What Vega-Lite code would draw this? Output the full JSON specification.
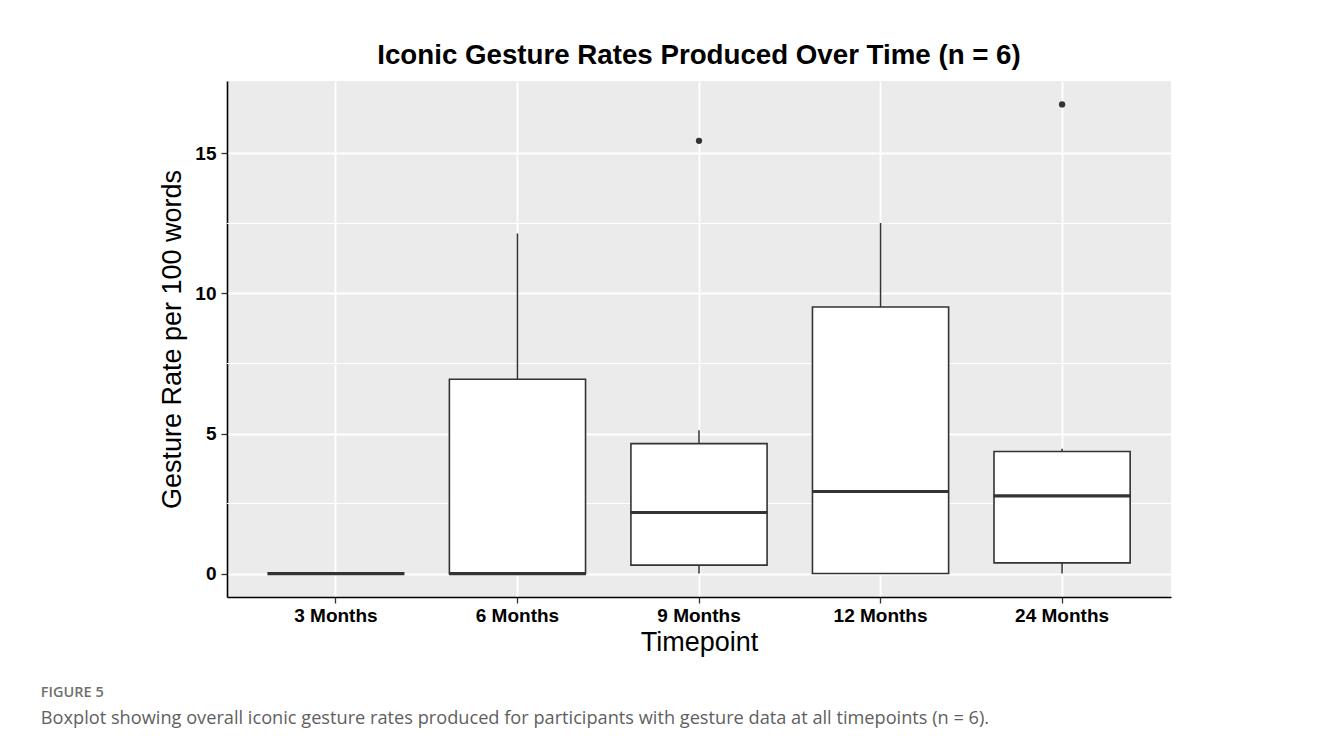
{
  "$schema": "https://vega.github.io/schema/vega-lite/v6.json",
  "background": "white",
  "padding": {"left": 40, "top": 42, "right": 5, "bottom": 5},
  "datasets": {
    "boxes": [
      {"timepoint": "3 Months", "lower": 0, "q1": 0, "median": 0, "q3": 0, "upper": 0},
      {"timepoint": "6 Months", "lower": 0, "q1": 0, "median": 0, "q3": 6.94, "upper": 12.14},
      {"timepoint": "9 Months", "lower": 0, "q1": 0.30, "median": 2.18, "q3": 4.64, "upper": 5.12},
      {"timepoint": "12 Months", "lower": 0, "q1": 0, "median": 2.93, "q3": 9.52, "upper": 12.52},
      {"timepoint": "24 Months", "lower": 0, "q1": 0.38, "median": 2.77, "q3": 4.36, "upper": 4.46}
    ],
    "outliers": [
      {"timepoint": "9 Months", "rate": 15.45},
      {"timepoint": "24 Months", "rate": 16.75}
    ],
    "minor": [{"v": 2.5}, {"v": 7.5}, {"v": 12.5}]
  },
  "title": {
    "text": "FIGURE 5",
    "subtitle": "Boxplot showing overall iconic gesture rates produced for participants with gesture data at all timepoints (n = 6).",
    "orient": "bottom",
    "anchor": "start",
    "frame": "bounds",
    "dx": -118,
    "offset": 31,
    "font": "Open Sans",
    "fontSize": 14.5,
    "fontWeight": 600,
    "color": "#6f6f6f",
    "subtitleFont": "Open Sans",
    "subtitleFontSize": 18.2,
    "subtitleColor": "#5f5f5f",
    "subtitlePadding": 9
  },
  "vconcat": [
    {
      "width": 944,
      "height": 516,
      "title": {
        "text": "Iconic Gesture Rates Produced Over Time (n = 6)",
        "font": "Liberation Sans",
        "fontSize": 27.7,
        "fontWeight": "bold",
        "color": "black",
        "anchor": "middle",
        "offset": 11
      },
      "layer": [
        {
          "data": {"name": "minor"},
          "mark": {"type": "rule", "color": "white", "strokeWidth": 1},
          "encoding": {
            "y": {"field": "v", "type": "quantitative",
                  "scale": {"domain": [-0.8375, 17.5875], "nice": false, "zero": false},
                  "axis": {"title": "Gesture Rate per 100 words", "values": [0, 5, 10, 15]}}
          }
        },
        {
          "data": {"name": "boxes"},
          "mark": {"type": "rule", "color": "#333333", "strokeWidth": 1.5},
          "encoding": {
            "x": {"field": "timepoint", "type": "nominal",
                  "sort": ["3 Months", "6 Months", "9 Months", "12 Months", "24 Months"],
                  "scale": {"type": "band", "paddingInner": 0.25, "paddingOuter": 0.225},
                  "axis": {"title": "Timepoint", "labelAngle": 0, "bandPosition": 0.5}},
            "y": {"field": "lower", "type": "quantitative",
                  "scale": {"domain": [-0.8375, 17.5875], "nice": false, "zero": false},
                  "axis": {"title": "Gesture Rate per 100 words", "values": [0, 5, 10, 15]}},
            "y2": {"field": "upper"}
          }
        },
        {
          "data": {"name": "boxes"},
          "mark": {"type": "bar", "fill": "white", "stroke": "#333333", "strokeWidth": 1.6},
          "encoding": {
            "x": {"field": "timepoint", "type": "nominal",
                  "sort": ["3 Months", "6 Months", "9 Months", "12 Months", "24 Months"],
                  "scale": {"type": "band", "paddingInner": 0.25, "paddingOuter": 0.225},
                  "axis": {"title": "Timepoint", "labelAngle": 0, "bandPosition": 0.5}},
            "y": {"field": "q1", "type": "quantitative",
                  "scale": {"domain": [-0.8375, 17.5875], "nice": false, "zero": false},
                  "axis": {"title": "Gesture Rate per 100 words", "values": [0, 5, 10, 15]}},
            "y2": {"field": "q3"}
          }
        },
        {
          "data": {"name": "boxes"},
          "mark": {"type": "tick", "color": "#333333", "opacity": 1, "size": 137, "thickness": 3.2, "orient": "horizontal"},
          "encoding": {
            "x": {"field": "timepoint", "type": "nominal",
                  "sort": ["3 Months", "6 Months", "9 Months", "12 Months", "24 Months"],
                  "scale": {"type": "band", "paddingInner": 0.25, "paddingOuter": 0.225},
                  "axis": {"title": "Timepoint", "labelAngle": 0, "bandPosition": 0.5}},
            "y": {"field": "median", "type": "quantitative",
                  "scale": {"domain": [-0.8375, 17.5875], "nice": false, "zero": false},
                  "axis": {"title": "Gesture Rate per 100 words", "values": [0, 5, 10, 15]}}
          }
        },
        {
          "data": {"name": "outliers"},
          "mark": {"type": "point", "filled": true, "color": "#333333", "opacity": 1, "size": 40},
          "encoding": {
            "x": {"field": "timepoint", "type": "nominal",
                  "sort": ["3 Months", "6 Months", "9 Months", "12 Months", "24 Months"],
                  "scale": {"type": "band", "paddingInner": 0.25, "paddingOuter": 0.225},
                  "axis": {"title": "Timepoint", "labelAngle": 0, "bandPosition": 0.5}},
            "y": {"field": "rate", "type": "quantitative",
                  "scale": {"domain": [-0.8375, 17.5875], "nice": false, "zero": false},
                  "axis": {"title": "Gesture Rate per 100 words", "values": [0, 5, 10, 15]}}
          }
        }
      ]
    }
  ],
  "config": {
    "font": "Liberation Sans",
    "view": {"fill": "#EBEBEB", "stroke": null},
    "axis": {
      "titleFont": "Liberation Sans",
      "titleFontSize": 27,
      "titleFontWeight": "normal",
      "titleColor": "black",
      "labelFont": "Liberation Sans",
      "labelFontSize": 19,
      "labelFontWeight": "bold",
      "labelColor": "black",
      "tickSize": 6,
      "tickColor": "#333333",
      "tickWidth": 1.3,
      "domainColor": "black",
      "domainWidth": 1.6,
      "grid": true,
      "gridColor": "white",
      "gridWidth": 1.8
    },
    "axisX": {"labelPadding": 3, "titlePadding": 4},
    "axisY": {"labelPadding": 5, "titlePadding": 8}
  }
}
